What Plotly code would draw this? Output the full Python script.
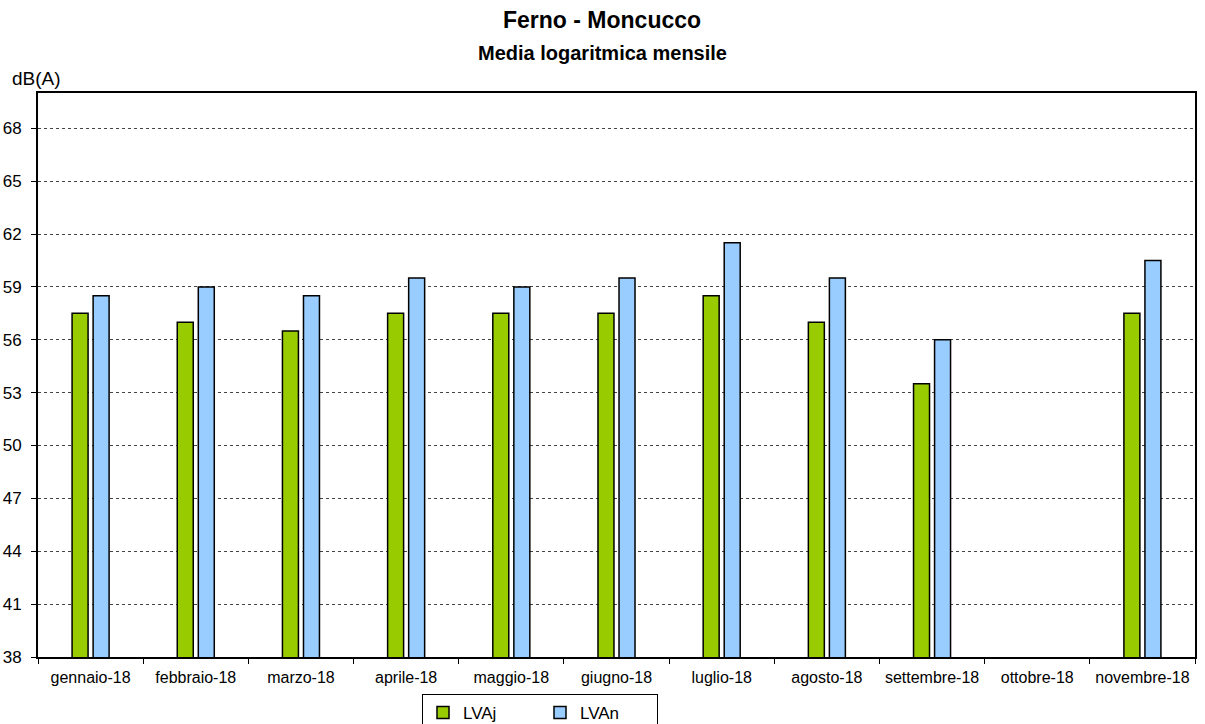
import plotly.graph_objects as go

months = ["gennaio-18", "febbraio-18", "marzo-18", "aprile-18", "maggio-18", "giugno-18",
          "luglio-18", "agosto-18", "settembre-18", "ottobre-18", "novembre-18"]
lvaj = [57.5, 57.0, 56.5, 57.5, 57.5, 57.5, 58.5, 57.0, 53.5, None, 57.5]
lvan = [58.5, 59.0, 58.5, 59.5, 59.0, 59.5, 61.5, 59.5, 56.0, None, 60.5]
yticks = [38, 41, 44, 47, 50, 53, 56, 59, 62, 65, 68]

FONT = "Liberation Sans, Arial, sans-serif"
W, H = 1205, 724
L, R, T, B = 38, 10, 93, 67
PH = H - T - B

fig = go.Figure()
fig.add_trace(go.Bar(x=months, y=lvaj, name="LVAj",
                     marker=dict(color="#99CC00", line=dict(color="black", width=1.5))))
fig.add_trace(go.Bar(x=months, y=lvan, name="LVAn",
                     marker=dict(color="#99CCFF", line=dict(color="black", width=1.5))))

fig.update_layout(
    width=W, height=H,
    paper_bgcolor="white", plot_bgcolor="white",
    font=dict(family=FONT, size=16, color="black"),
    margin=dict(l=L, r=R, t=T, b=B, autoexpand=False),
    barmode="group", bargap=0.6, bargroupgap=0.24,
    showlegend=True,
    legend=dict(orientation="h", xref="container", x=540 / W, xanchor="center",
                yref="container", y=1 - 694 / H, yanchor="top",
                bordercolor="black", borderwidth=1, font=dict(size=17, family=FONT),
                itemwidth=30, entrywidth=72, tracegroupgap=0),
)
fig.add_annotation(text="<b>Ferno - Moncucco</b>", xref="paper", yref="paper",
                   x=(602 - L) / (W - L - R), y=(H - B - 20) / PH, showarrow=False,
                   font=dict(size=23, family=FONT), xanchor="center", yanchor="middle")
fig.add_annotation(text="<b>Media logaritmica mensile</b>", xref="paper", yref="paper",
                   x=(602 - L) / (W - L - R), y=(H - B - 53) / PH, showarrow=False,
                   font=dict(size=20, family=FONT), xanchor="center", yanchor="middle")
fig.add_annotation(text="dB(A)", xref="paper", yref="paper",
                   x=(36.5 - L) / (W - L - R), y=(H - B - 79) / PH, showarrow=False,
                   font=dict(size=19, family=FONT), xanchor="center", yanchor="middle")

fig.update_xaxes(type="category", showline=True, linecolor="black", linewidth=2, mirror=True,
                 ticks="outside", tickson="boundaries", ticklen=5, tickcolor="black",
                 tickwidth=1, showgrid=False, tickfont=dict(size=16, family=FONT),
                 ticklabelstandoff=5, automargin=False)
fig.update_yaxes(range=[38, 70], tickvals=yticks, showline=True, linecolor="black", linewidth=2,
                 mirror=True, ticks="outside", ticklen=5, tickcolor="black", tickwidth=1,
                 showgrid=True, gridcolor="#444444", griddash="dot",
                 gridwidth=1, tickfont=dict(size=17, family=FONT), zeroline=False,
                 ticklabelstandoff=6, automargin=False)

fig.write_html("out.html", config={"displayModeBar": False},
               post_script="document.body.style.margin='0';")
